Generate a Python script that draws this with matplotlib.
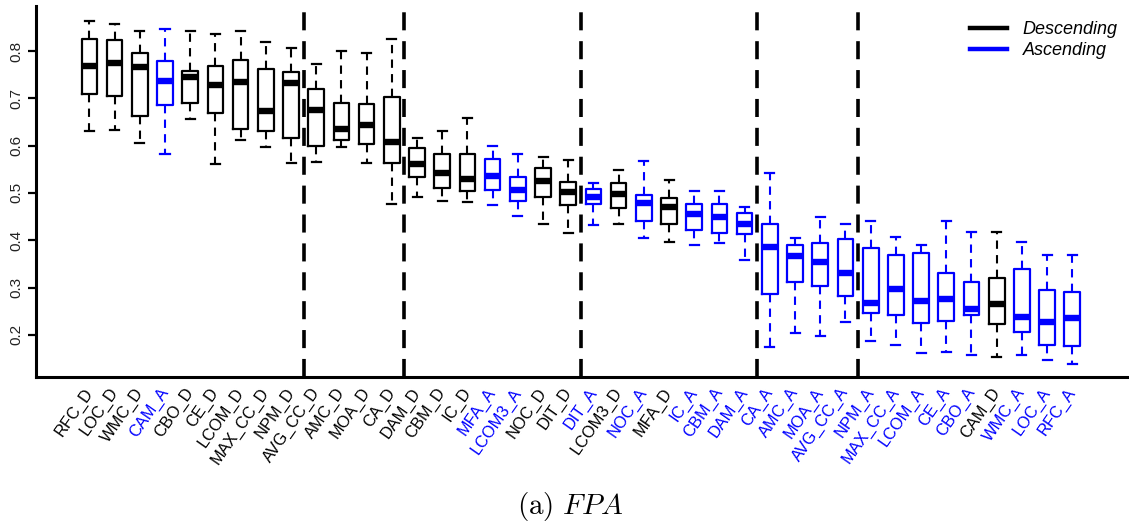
import matplotlib
matplotlib.use("Agg")
import matplotlib.pyplot as plt
from matplotlib.lines import Line2D

plt.rcParams["font.family"] = ["Liberation Sans", "DejaVu Sans"]
plt.rcParams["mathtext.fontset"] = "cm"

labels = [
    "RFC_D", "LOC_D", "WMC_D", "CAM_A", "CBO_D", "CE_D", "LCOM_D", "MAX_CC_D",
    "NPM_D", "AVG_CC_D", "AMC_D", "MOA_D", "CA_D", "DAM_D", "CBM_D", "IC_D",
    "MFA_A", "LCOM3_A", "NOC_D", "DIT_D", "DIT_A", "LCOM3_D", "NOC_A", "MFA_D",
    "IC_A", "CBM_A", "DAM_A", "CA_A", "AMC_A", "MOA_A", "AVG_CC_A", "NPM_A",
    "MAX_CC_A", "LCOM_A", "CE_A", "CBO_A", "CAM_D", "WMC_A", "LOC_A", "RFC_A",
]

whisker_hi = [0.863, 0.856, 0.843, 0.846, 0.842, 0.836, 0.842, 0.818, 0.806, 0.772,
              0.799, 0.796, 0.825, 0.616, 0.631, 0.658, 0.599, 0.582, 0.575, 0.569,
              0.521, 0.549, 0.568, 0.527, 0.504, 0.504, 0.471, 0.543, 0.405, 0.449,
              0.434, 0.441, 0.406, 0.389, 0.441, 0.418, 0.418, 0.396, 0.368, 0.368]
q3 = [0.826, 0.823, 0.796, 0.778, 0.758, 0.768, 0.781, 0.761, 0.756, 0.719,
      0.690, 0.687, 0.703, 0.594, 0.582, 0.582, 0.572, 0.533, 0.553, 0.523,
      0.508, 0.521, 0.496, 0.490, 0.477, 0.477, 0.458, 0.434, 0.389, 0.395,
      0.402, 0.384, 0.368, 0.372, 0.330, 0.312, 0.320, 0.340, 0.295, 0.291]
medians = [0.769, 0.774, 0.767, 0.737, 0.746, 0.729, 0.735, 0.674, 0.732, 0.675,
           0.635, 0.643, 0.608, 0.561, 0.543, 0.530, 0.536, 0.506, 0.525, 0.503,
           0.491, 0.497, 0.478, 0.470, 0.456, 0.449, 0.434, 0.385, 0.367, 0.353,
           0.330, 0.267, 0.297, 0.272, 0.275, 0.255, 0.266, 0.237, 0.228, 0.235]
q1 = [0.710, 0.705, 0.663, 0.685, 0.690, 0.668, 0.635, 0.630, 0.617, 0.599,
      0.612, 0.603, 0.563, 0.534, 0.510, 0.505, 0.506, 0.482, 0.491, 0.475,
      0.476, 0.468, 0.440, 0.434, 0.422, 0.416, 0.414, 0.287, 0.311, 0.304,
      0.282, 0.246, 0.241, 0.225, 0.230, 0.242, 0.224, 0.207, 0.179, 0.177]
whisker_lo = [0.631, 0.633, 0.606, 0.582, 0.656, 0.561, 0.611, 0.597, 0.563, 0.565,
              0.596, 0.563, 0.477, 0.492, 0.483, 0.480, 0.474, 0.452, 0.435, 0.415,
              0.432, 0.434, 0.405, 0.397, 0.389, 0.394, 0.358, 0.175, 0.204, 0.198,
              0.228, 0.188, 0.179, 0.161, 0.163, 0.158, 0.154, 0.158, 0.146, 0.138]

separators = [9.5, 13.5, 20.5, 27.5, 31.5]

BLUE = "#0000ff"
colors = [BLUE if lab.endswith("_A") else "black" for lab in labels]
positions = list(range(1, len(labels) + 1))

fig = plt.figure(figsize=(11.29, 5.28), dpi=100)
ax = fig.add_axes([36 / 1129, 151 / 528, 1092 / 1129, 371 / 528])

for pos, c, lo, a, m, b, hi in zip(positions, colors, whisker_lo, q1, medians, q3, whisker_hi):
    stats = [dict(whislo=lo, q1=a, med=m, q3=b, whishi=hi, fliers=[])]
    ax.bxp(
        stats, positions=[pos], widths=0.62, capwidths=0.36,
        boxprops=dict(color=c, linewidth=1.6),
        medianprops=dict(color=c, linewidth=4.6, solid_capstyle="butt"),
        whiskerprops=dict(color=c, linewidth=1.5, linestyle=(0, (4, 3))),
        capprops=dict(color=c, linewidth=1.6),
        showfliers=False, manage_ticks=False,
    )

for s in separators:
    ax.axvline(s, color="black", linewidth=2.6, linestyle=(0, (5, 3)))

ax.set_xlim(-1.12, 42.21)
ax.set_ylim(0.111, 0.895)

ax.spines["top"].set_visible(False)
ax.spines["right"].set_visible(False)
ax.spines["left"].set_linewidth(2.2)
ax.spines["bottom"].set_linewidth(2.2)

ax.set_yticks([0.2, 0.3, 0.4, 0.5, 0.6, 0.7, 0.8])
ax.set_yticklabels(["0.2", "0.3", "0.4", "0.5", "0.6", "0.7", "0.8"],
                   rotation=90, va="center", fontsize=11, color="#222222")
ax.tick_params(axis="y", length=6, width=1.6, pad=3)

ax.set_xticks(positions)
ax.set_xticklabels(labels, rotation=55, ha="right", va="center",
                   rotation_mode="anchor", fontsize=11.8)
for t, c in zip(ax.get_xticklabels(), colors):
    t.set_color(c)
ax.tick_params(axis="x", length=0, pad=9)

handles = [
    Line2D([], [], color="black", linewidth=3.2),
    Line2D([], [], color=BLUE, linewidth=3.2),
]
ax.legend(handles, ["Descending", "Ascending"], loc="upper right",
          bbox_to_anchor=(1125 / 1129, 1 - 14 / 528),
          bbox_transform=fig.transFigure, borderaxespad=0,
          frameon=False, handlelength=2.05, handletextpad=0.9,
          labelspacing=0.2, prop=dict(style="italic", size=13))

fig.text(0.505, 0.04, r"$\mathrm{(a)}\ FPA$", ha="center", va="center",
         fontsize=21)

fig.savefig("out.png", dpi=100)
